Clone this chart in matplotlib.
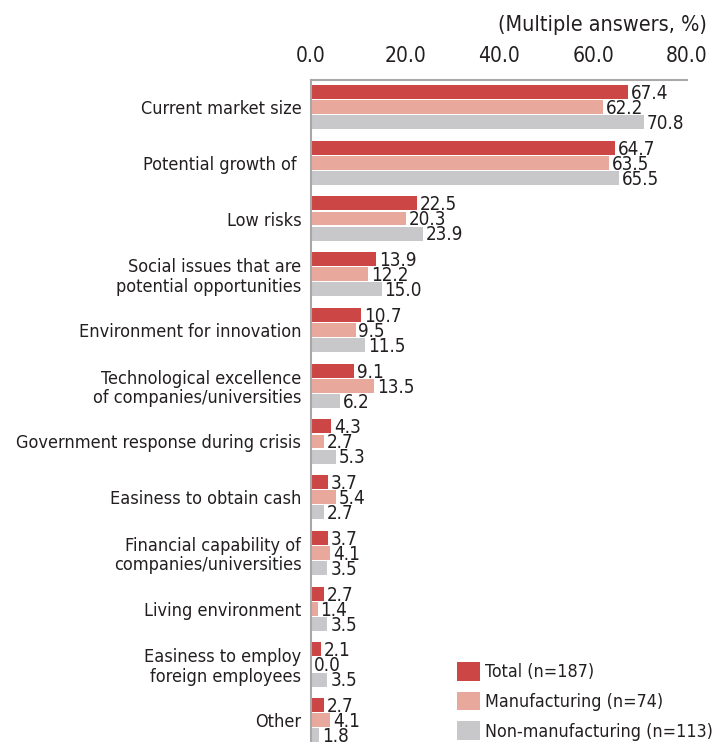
import matplotlib
matplotlib.use("Agg")
import matplotlib.pyplot as plt
import numpy as np
from matplotlib.patches import Patch

plt.rcParams['font.family'] = ['DejaVu Sans']
plt.rcParams['font.stretch'] = 'condensed'

categories = [
    "Current market size",
    "Potential growth of ",
    "Low risks",
    "Social issues that are\npotential opportunities",
    "Environment for innovation",
    "Technological excellence\nof companies/universities",
    "Government response during crisis",
    "Easiness to obtain cash",
    "Financial capability of\ncompanies/universities",
    "Living environment",
    "Easiness to employ\nforeign employees",
    "Other",
]
total = [67.4, 64.7, 22.5, 13.9, 10.7, 9.1, 4.3, 3.7, 3.7, 2.7, 2.1, 2.7]
manufacturing = [62.2, 63.5, 20.3, 12.2, 9.5, 13.5, 2.7, 5.4, 4.1, 1.4, 0.0, 4.1]
non_manufacturing = [70.8, 65.5, 23.9, 15.0, 11.5, 6.2, 5.3, 2.7, 3.5, 3.5, 3.5, 1.8]
series_names = ["Total (n=187)", "Manufacturing (n=74)", "Non-manufacturing (n=113)"]
xticks = [0, 20, 40, 60, 80]

colors = ["#CC4646", "#E8A89C", "#C8C8CA"]
text_color = "#231F20"

W, H = 716, 742
fig = plt.figure(figsize=(W / 100, H / 100), dpi=100)
left = 311 / W
right = 687 / W
top = 1 - 80 / H
ax = fig.add_axes([left, 0, right - left, top])

y = np.arange(len(categories))
h = 0.25
step = 0.27
for k, (vals, c) in enumerate(zip([total, manufacturing, non_manufacturing], colors)):
    pos = y + (k - 1) * step
    ax.barh(pos, vals, height=h, color=c, label=series_names[k], zorder=2)
    for p, v in zip(pos, vals):
        ax.annotate(f"{v:.1f}", xy=(v, p), xytext=(2, -1), textcoords="offset points",
                    ha="left", va="center", fontsize=13.5, color=text_color, zorder=3)

ax.set_xlim(0, 80)
ax.set_ylim((H - 107) / 55.75, -27 / 55.75)
ax.set_yticks(y)
ax.set_yticklabels(categories, fontsize=13, color=text_color, linespacing=1.1)
ax.set_xticks(xticks)
ax.set_xticklabels([f"{t:.1f}" for t in xticks], fontsize=15, color=text_color)
ax.xaxis.tick_top()
ax.tick_params(axis='x', length=0, pad=10)
ax.tick_params(axis='y', length=0, pad=7)
for s in ["right", "bottom"]:
    ax.spines[s].set_visible(False)
for s in ["top", "left"]:
    ax.spines[s].set_color("#A8A8A8")
    ax.spines[s].set_linewidth(1.5)

fig.text(707 / W, 1 - 25 / H, "(Multiple answers, %)", ha="right", va="center",
         fontsize=15.5, color=text_color)

handles = [Patch(facecolor=c) for c in colors]
leg = ax.legend(handles, series_names, loc="upper left",
                bbox_to_anchor=(457 / W, 1 - 662 / H), bbox_transform=fig.transFigure,
                frameon=False, fontsize=12.8, handlelength=1.3, handleheight=1.25,
                handletextpad=0.3, labelspacing=0.58, borderpad=0, borderaxespad=0)
for t in leg.get_texts():
    t.set_color(text_color)

fig.savefig("out.png", dpi=100)
